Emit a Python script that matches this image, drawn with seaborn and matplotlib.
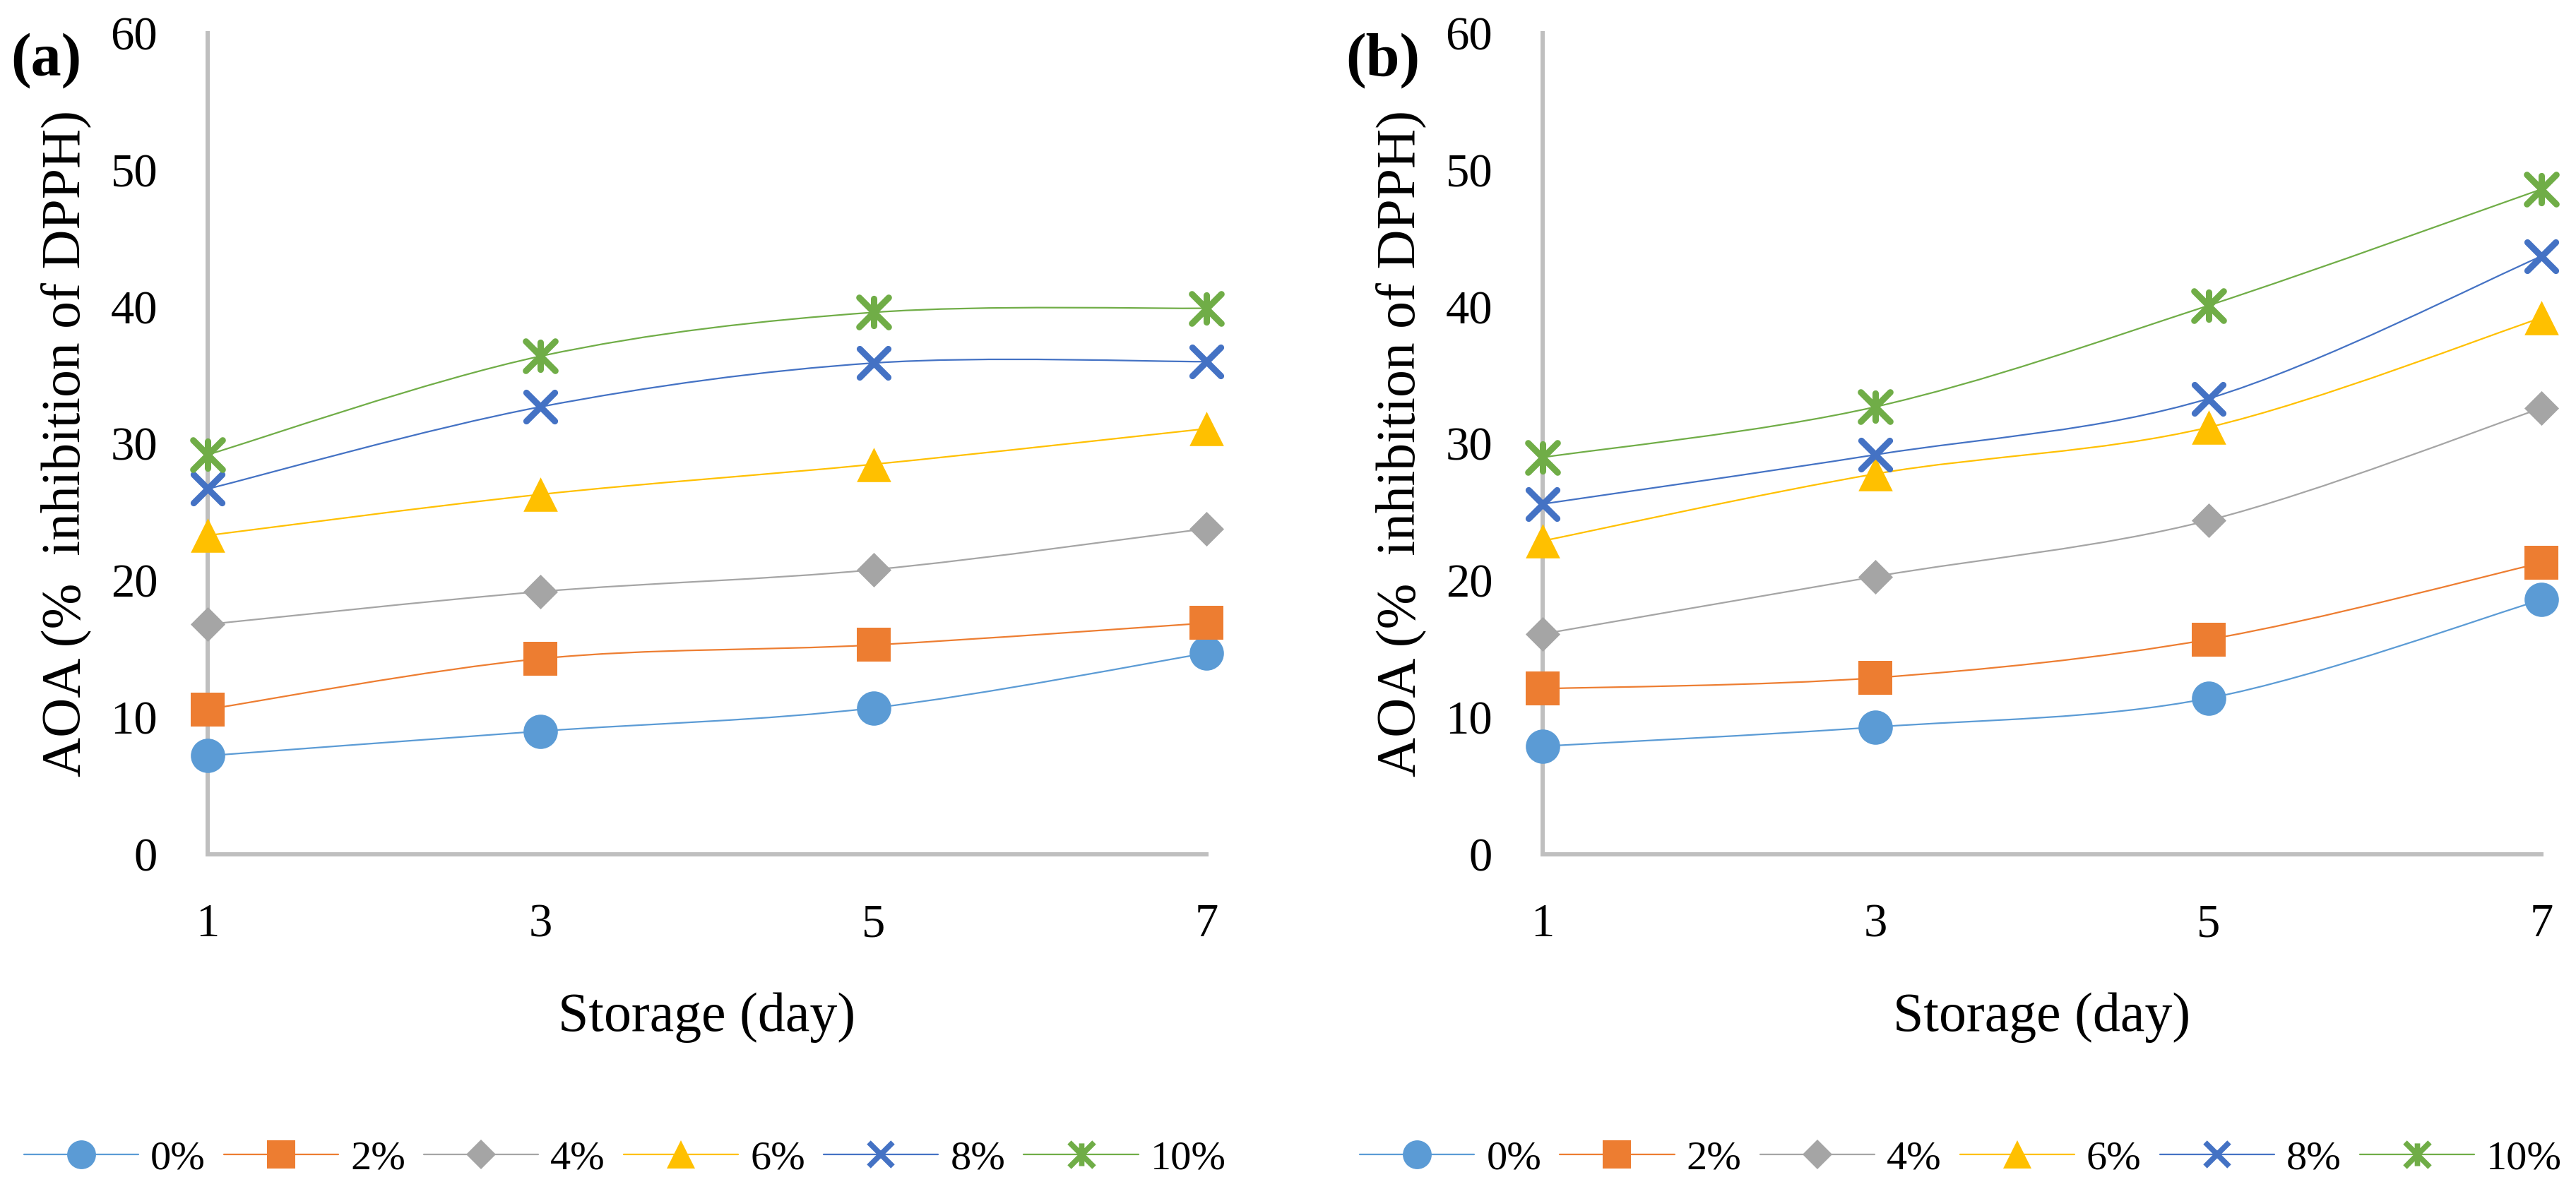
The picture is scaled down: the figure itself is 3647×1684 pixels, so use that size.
import numpy as np
import pandas as pd
import matplotlib
matplotlib.use("Agg")
import matplotlib.pyplot as plt
from matplotlib.path import Path
from matplotlib.patches import PathPatch
from matplotlib.lines import Line2D
import seaborn as sns

# ---------------------------------------------------------------
# data (AOA, % inhibition of DPPH)
# ---------------------------------------------------------------
DAYS = [1, 3, 5, 7]
LEVELS = ["0%", "2%", "4%", "6%", "8%", "10%"]

A_0 = [7.2, 9.0, 10.7, 14.7]
A_2 = [10.6, 14.3, 15.3, 16.9]
A_4 = [16.8, 19.2, 20.8, 23.8]
A_6 = [23.3, 26.3, 28.5, 31.1]
A_8 = [26.7, 32.7, 35.9, 36.0]
A_10 = [29.2, 36.4, 39.6, 39.9]

B_0 = [7.9, 9.3, 11.4, 18.6]
B_2 = [12.1, 12.9, 15.7, 21.3]
B_4 = [16.1, 20.3, 24.4, 32.6]
B_6 = [22.9, 27.8, 31.2, 39.2]
B_8 = [25.6, 29.2, 33.3, 43.7]
B_10 = [29.0, 32.7, 40.1, 48.6]

PANEL_A = [A_0, A_2, A_4, A_6, A_8, A_10]
PANEL_B = [B_0, B_2, B_4, B_6, B_8, B_10]

Y_TICKS = [0, 10, 20, 30, 40, 50, 60]
X_LABEL = "Storage (day)"
Y_LABEL = "AOA (%  inhibition of DPPH)"

# Excel office palette / markers
COLORS = ["#5B9BD5", "#ED7D31", "#A5A5A5", "#FFC000", "#4472C4", "#70AD47"]
ASTERISK = Path([(-1, -1), (1, 1), (-1, 1), (1, -1), (0, -0.92), (0, 0.92)],
                [Path.MOVETO, Path.LINETO, Path.MOVETO, Path.LINETO,
                 Path.MOVETO, Path.LINETO])
MARKERS = ["o", "s", "D", "^", "x", ASTERISK]
MSIZE = [35, 35, 25, 35, 29, 30]       # marker size in points
MEW = [0, 0, 0, 0, 6.5, 6.5]


def long_frame(series):
    rows = []
    for lvl, vals in zip(LEVELS, series):
        for d, v in zip(DAYS, vals):
            rows.append({"day": d, "aoa": v, "level": lvl})
    return pd.DataFrame(rows)


def smooth_path(xs, ys):
    """Excel-style smoothed line: cubic bezier through every point."""
    p = np.column_stack([xs, ys]).astype(float)
    n = len(p)
    verts = [p[0]]
    codes = [Path.MOVETO]
    for i in range(n - 1):
        p_prev = p[i - 1] if i > 0 else p[i]
        p_next2 = p[i + 2] if i + 2 < n else p[i + 1]
        c1 = p[i] + (p[i + 1] - p_prev) / 6.0
        c2 = p[i + 1] - (p_next2 - p[i]) / 6.0
        verts += [c1, c2, p[i + 1]]
        codes += [Path.CURVE4] * 3
    return Path(verts, codes)


sns.set_style("white")
plt.rcParams["font.family"] = ["Liberation Serif", "DejaVu Serif"]
for key in ["text.color", "axes.labelcolor", "xtick.color", "ytick.color"]:
    plt.rcParams[key] = "black"

W, H = 3648, 1684
fig = plt.figure(figsize=(W / 100, H / 100), dpi=100)

panels = [("(a)", PANEL_A, 294), ("(b)", PANEL_B, 2184)]
legend_x = [0.2425, 0.761]

for k, (tag, series, x0) in enumerate(panels):
    ax = fig.add_axes([x0 / W, 1 - 1210 / H, 1414 / W, 1163 / H])
    df = long_frame(series)

    for i, lvl in enumerate(LEVELS):
        sub = df[df["level"] == lvl]
        patch = PathPatch(smooth_path(sub["day"], sub["aoa"]), facecolor="none",
                          edgecolor=COLORS[i], lw=1.6, transform=ax.transData,
                          clip_on=False, zorder=2 + i)
        ax.add_patch(patch)
        sns.scatterplot(data=sub, x="day", y="aoa", ax=ax, marker=MARKERS[i],
                        s=MSIZE[i] ** 2, color=COLORS[i], edgecolor=COLORS[i],
                        clip_on=False, zorder=10 + i, legend=False)
        pts = ax.collections[-1]
        pts.set_linewidth(MEW[i])
        pts.set_edgecolor(COLORS[i])
        pts.set_capstyle("round")

    ax.set_xlim(1, 7)
    ax.set_ylim(0, 60)
    ax.set_xticks(DAYS)
    ax.set_yticks(Y_TICKS)
    ax.tick_params(axis="both", length=0, labelsize=48, labelcolor="black")
    ax.tick_params(axis="x", pad=50)
    ax.tick_params(axis="y", pad=51)
    sns.despine(ax=ax)
    for side in ["left", "bottom"]:
        ax.spines[side].set_color("#BFBFBF")
        ax.spines[side].set_linewidth(4.3)
        ax.spines[side].set_zorder(1)
    ax.grid(False)

    ax.set_xlabel(X_LABEL, fontsize=56, va="baseline", color="black")
    ax.xaxis.set_label_coords(0.5, -0.215)
    ax.set_ylabel(Y_LABEL, fontsize=56, va="baseline", color="black")
    ax.yaxis.set_label_coords(-0.1287, 0.5)

    fig.text((x0 - 279) / W, 1 - 86 / H, tag, fontsize=62, fontweight="bold",
             ha="left", va="center", color="black")

    handles = [Line2D([], [], color=COLORS[i], lw=1.6, marker=MARKERS[i],
                      markersize=MSIZE[i] * 0.84, markerfacecolor=COLORS[i],
                      markeredgecolor=COLORS[i], markeredgewidth=MEW[i] * 0.85)
               for i in range(len(LEVELS))]
    leg = fig.legend(handles=handles, labels=LEVELS, loc="center", ncol=6,
                     bbox_to_anchor=(legend_x[k], 1 - 1641 / H), frameon=False,
                     fontsize=42, handlelength=2.78, handletextpad=0.29,
                     columnspacing=0.45, borderaxespad=0, borderpad=0)
    for t in leg.get_texts():
        t.set_color("black")

fig.savefig("out.png", dpi=100)
